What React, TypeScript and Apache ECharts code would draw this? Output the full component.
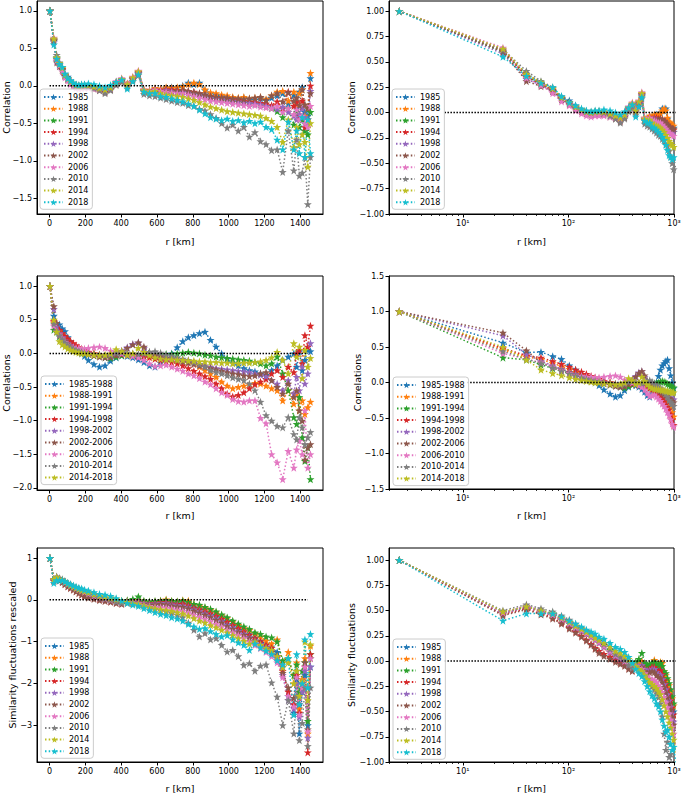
import React, { useEffect, useRef } from "react";
import * as echarts from "echarts";

// distance bins (km)
const R_KM = [2.5, 24, 40, 55, 71, 86, 102, 117, 133, 148, 164, 179, 195, 217, 248, 279, 310, 341, 372, 403, 434, 465, 496, 527, 558, 589, 620, 651, 682, 713, 744, 775, 806, 837, 868, 899, 930, 961, 992, 1023, 1054, 1085, 1116, 1147, 1178, 1209, 1240, 1271, 1302, 1333, 1364, 1380, 1395, 1411, 1426, 1442, 1457];

const YEARS = ["1985", "1988", "1991", "1994", "1998", "2002", "2006", "2010", "2014", "2018"];
const PERIODS = ["1985-1988", "1988-1991", "1991-1994", "1994-1998", "1998-2002", "2002-2006", "2006-2010", "2010-2014", "2014-2018"];
const TAB10 = ["#1f77b4", "#ff7f0e", "#2ca02c", "#d62728", "#9467bd", "#8c564b", "#e377c2", "#7f7f7f", "#bcbd22", "#17becf"];

// Correlation per year (top row)
const corr1985 = [1, 0.60, 0.38, 0.30, 0.24, 0.16, 0.12, 0.07, 0.03, 0.01, 0.00, 0.01, 0.01, 0.00, -0.02, -0.04, -0.07, -0.03, 0.04, 0.08, 0.02, 0.10, 0.18, -0.06, -0.07, -0.04, -0.05, -0.03, -0.02, -0.03, 0.00, 0.04, 0.02, 0.04, -0.06, -0.10, -0.12, -0.14, -0.15, -0.16, -0.17, -0.16, -0.18, -0.19, -0.17, -0.20, -0.16, -0.13, -0.10, -0.24, -0.12, -0.30, -0.08, -0.02, -0.35, -0.40, 0.10];
const corr1988 = [1, 0.61, 0.37, 0.29, 0.23, 0.15, 0.10, 0.06, 0.03, 0.01, 0.00, 0.00, 0.01, 0.00, -0.02, -0.04, -0.06, -0.03, 0.05, 0.09, 0.03, 0.11, 0.19, -0.05, -0.06, -0.03, -0.04, -0.02, -0.03, -0.02, -0.01, 0.02, 0.04, 0.02, -0.05, -0.09, -0.10, -0.12, -0.13, -0.15, -0.16, -0.15, -0.17, -0.16, -0.15, -0.18, -0.13, -0.08, -0.07, -0.20, -0.08, -0.25, -0.10, -0.05, -0.40, -0.30, 0.17];
const corr1991 = [1, 0.60, 0.36, 0.28, 0.22, 0.14, 0.10, 0.05, 0.02, 0.00, -0.01, 0.00, 0.00, -0.01, -0.02, -0.05, -0.07, -0.04, 0.03, 0.07, 0.01, 0.09, 0.17, -0.07, -0.08, -0.06, -0.07, -0.06, -0.06, -0.07, -0.07, -0.08, -0.09, -0.11, -0.13, -0.15, -0.17, -0.18, -0.19, -0.20, -0.21, -0.22, -0.23, -0.24, -0.25, -0.27, -0.30, -0.34, -0.42, -0.30, -0.52, -0.35, -0.55, -0.45, -0.60, -0.65, -0.35];
const corr1994 = [1, 0.62, 0.35, 0.28, 0.22, 0.14, 0.09, 0.05, 0.02, 0.00, -0.01, -0.01, 0.00, -0.01, -0.03, -0.05, -0.08, -0.04, 0.04, 0.08, 0.02, 0.10, 0.18, -0.06, -0.07, -0.05, -0.06, -0.05, -0.05, -0.06, -0.06, -0.07, -0.08, -0.10, -0.12, -0.14, -0.15, -0.16, -0.17, -0.18, -0.19, -0.20, -0.21, -0.22, -0.23, -0.24, -0.26, -0.21, -0.30, -0.08, -0.27, -0.22, -0.40, -0.20, -0.55, -0.45, 0.00];
const corr1998 = [1, 0.58, 0.33, 0.27, 0.21, 0.13, 0.09, 0.05, 0.02, 0.00, -0.01, 0.00, 0.00, -0.01, -0.03, -0.05, -0.07, -0.04, 0.03, 0.07, 0.01, 0.09, 0.17, -0.07, -0.08, -0.06, -0.07, -0.06, -0.07, -0.08, -0.08, -0.09, -0.10, -0.12, -0.14, -0.16, -0.17, -0.18, -0.19, -0.20, -0.21, -0.22, -0.23, -0.24, -0.25, -0.27, -0.29, -0.31, -0.28, -0.35, -0.40, -0.45, -0.38, -0.30, -0.42, -0.50, -0.07];
const corr2002 = [1, 0.60, 0.31, 0.26, 0.21, 0.13, 0.08, 0.04, 0.01, -0.01, -0.02, -0.02, -0.01, -0.02, -0.04, -0.06, -0.09, -0.05, 0.02, 0.06, 0.00, 0.08, 0.16, -0.08, -0.09, -0.07, -0.08, -0.07, -0.08, -0.07, -0.06, -0.07, -0.09, -0.10, -0.12, -0.14, -0.15, -0.16, -0.16, -0.17, -0.17, -0.18, -0.17, -0.16, -0.15, -0.19, -0.13, -0.10, -0.21, -0.09, -0.20, -0.16, -0.26, -0.05, -0.25, -0.30, -0.10];
const corr2006 = [1, 0.64, 0.34, 0.27, 0.19, 0.11, 0.07, 0.02, -0.01, -0.03, -0.04, -0.03, -0.03, -0.03, -0.04, -0.05, -0.06, -0.03, 0.06, 0.10, 0.03, 0.12, 0.20, -0.05, -0.07, -0.05, -0.07, -0.08, -0.09, -0.10, -0.10, -0.12, -0.14, -0.16, -0.18, -0.20, -0.21, -0.22, -0.23, -0.24, -0.25, -0.26, -0.27, -0.26, -0.28, -0.29, -0.30, -0.27, -0.35, -0.30, -0.38, -0.32, -0.45, -0.40, -0.50, -0.55, -0.27];
const corr2010 = [1, 0.62, 0.41, 0.31, 0.25, 0.15, 0.10, 0.06, 0.03, 0.01, 0.00, 0.01, 0.01, 0.00, -0.03, -0.06, -0.10, -0.06, 0.01, 0.05, -0.02, 0.06, 0.14, -0.11, -0.13, -0.14, -0.16, -0.18, -0.20, -0.22, -0.23, -0.26, -0.27, -0.31, -0.33, -0.38, -0.43, -0.50, -0.56, -0.52, -0.60, -0.55, -0.68, -0.62, -0.74, -0.78, -0.86, -0.85, -1.15, -0.60, -1.13, -0.72, -1.20, -1.16, -0.95, -1.58, -0.95];
const corr2014 = [1, 0.63, 0.38, 0.30, 0.24, 0.15, 0.10, 0.06, 0.03, 0.01, 0.00, 0.01, 0.01, 0.01, -0.01, -0.03, -0.05, -0.02, 0.05, 0.09, 0.02, 0.11, 0.19, -0.06, -0.08, -0.07, -0.10, -0.12, -0.13, -0.14, -0.15, -0.17, -0.19, -0.22, -0.25, -0.28, -0.30, -0.32, -0.34, -0.35, -0.36, -0.37, -0.38, -0.39, -0.40, -0.43, -0.47, -0.55, -0.75, -0.45, -0.82, -0.55, -0.78, -0.65, -0.75, -1.08, -0.50];
const corr2018 = [1, 0.55, 0.36, 0.29, 0.25, 0.16, 0.10, 0.07, 0.04, 0.02, 0.01, 0.02, 0.02, 0.03, 0.02, 0.00, -0.02, 0.01, 0.05, 0.08, -0.04, 0.06, 0.15, -0.08, -0.10, -0.10, -0.14, -0.15, -0.17, -0.19, -0.21, -0.24, -0.27, -0.32, -0.37, -0.42, -0.44, -0.46, -0.44, -0.47, -0.46, -0.49, -0.47, -0.50, -0.48, -0.55, -0.58, -0.72, -0.85, -0.48, -0.85, -0.60, -0.90, -0.42, -0.95, -0.45, -0.90];

// Correlations per period (middle row)
const corrP1985_1988 = [1, 0.56, 0.42, 0.43, 0.37, 0.33, 0.24, 0.18, 0.12, 0.07, 0.03, 0.00, -0.04, -0.10, -0.16, -0.20, -0.18, -0.11, -0.06, -0.03, -0.04, -0.06, -0.09, -0.13, -0.18, -0.20, -0.14, -0.07, 0.00, 0.09, 0.18, 0.24, 0.27, 0.30, 0.32, 0.20, 0.10, 0.00, -0.08, -0.14, -0.18, -0.22, -0.25, -0.27, -0.30, -0.32, -0.25, -0.18, -0.10, -0.05, 0.00, -0.20, 0.03, -0.25, -0.10, 0.05, 0.03];
const corrP1988_1991 = [1, 0.46, 0.36, 0.33, 0.27, 0.23, 0.19, 0.15, 0.12, 0.09, 0.07, 0.05, 0.03, 0.01, 0.00, -0.02, -0.03, -0.02, 0.00, 0.01, 0.00, -0.01, -0.02, -0.03, -0.04, -0.05, -0.06, -0.07, -0.08, -0.09, -0.11, -0.13, -0.15, -0.20, -0.25, -0.30, -0.35, -0.42, -0.48, -0.52, -0.50, -0.48, -0.46, -0.44, -0.45, -0.48, -0.52, -0.55, -0.70, -0.55, -0.75, -0.60, -0.85, -0.70, -0.90, -0.80, -0.72];
const corrP1991_1994 = [1, 0.35, 0.32, 0.25, 0.20, 0.16, 0.13, 0.10, 0.08, 0.06, 0.04, 0.02, 0.01, -0.01, -0.03, -0.04, -0.06, -0.07, -0.05, -0.03, -0.02, -0.03, -0.03, -0.03, -0.02, -0.02, -0.01, -0.01, -0.01, 0.00, 0.01, 0.02, 0.01, 0.00, -0.02, -0.03, -0.05, -0.06, -0.07, -0.08, -0.09, -0.10, -0.11, -0.13, -0.15, -0.18, -0.15, -0.05, -0.30, -0.55, -0.95, -1.05, -0.65, -1.25, -1.60, -1.40, -1.87];
const corrP1994_1998 = [1, 0.48, 0.38, 0.35, 0.30, 0.26, 0.22, 0.18, 0.15, 0.12, 0.09, 0.07, 0.05, 0.02, 0.00, -0.02, -0.04, -0.04, -0.02, -0.01, -0.02, -0.03, -0.04, -0.05, -0.06, -0.08, -0.10, -0.12, -0.13, -0.15, -0.18, -0.22, -0.26, -0.30, -0.34, -0.38, -0.45, -0.52, -0.60, -0.64, -0.62, -0.58, -0.52, -0.46, -0.42, -0.38, -0.30, -0.25, -0.35, -0.20, -0.28, 0.00, 0.05, -0.15, 0.27, 0.10, 0.41];
const corrP1998_2002 = [1, 0.66, 0.40, 0.30, 0.24, 0.19, 0.15, 0.12, 0.09, 0.07, 0.05, 0.03, 0.02, 0.00, -0.02, -0.04, -0.05, -0.04, 0.00, 0.04, 0.09, 0.14, 0.16, 0.08, 0.01, -0.03, -0.05, -0.07, -0.08, -0.10, -0.11, -0.12, -0.14, -0.16, -0.18, -0.20, -0.22, -0.23, -0.24, -0.25, -0.26, -0.27, -0.28, -0.30, -0.32, -0.34, -0.40, -0.45, -0.55, -0.40, -0.60, -0.35, -0.55, -0.20, -0.45, -0.30, 0.15];
const corrP2002_2006 = [1, 0.70, 0.45, 0.28, 0.22, 0.18, 0.14, 0.11, 0.08, 0.06, 0.04, 0.02, 0.01, -0.01, -0.03, -0.05, -0.06, -0.05, -0.02, 0.03, 0.08, 0.13, 0.16, 0.10, 0.02, -0.02, -0.04, -0.06, -0.08, -0.10, -0.12, -0.14, -0.16, -0.18, -0.20, -0.22, -0.24, -0.26, -0.28, -0.30, -0.31, -0.33, -0.34, -0.33, -0.30, -0.28, -0.40, -0.50, -0.60, -0.45, -0.65, -0.55, -0.85, -1.00, -1.58, -1.40, -1.35];
const corrP2006_2010 = [1, 0.41, 0.33, 0.28, 0.22, 0.17, 0.13, 0.10, 0.09, 0.08, 0.08, 0.07, 0.07, 0.08, 0.09, 0.10, 0.08, 0.04, 0.02, 0.00, -0.02, -0.04, -0.06, -0.10, -0.15, -0.19, -0.18, -0.17, -0.20, -0.23, -0.26, -0.30, -0.33, -0.37, -0.42, -0.46, -0.52, -0.58, -0.62, -0.68, -0.71, -0.72, -0.70, -0.70, -0.96, -1.04, -1.50, -1.62, -1.87, -1.45, -1.70, -1.43, -1.30, -1.50, -0.85, -1.70, -1.50];
const corrP2010_2014 = [1, 0.44, 0.33, 0.27, 0.21, 0.16, 0.12, 0.09, 0.07, 0.05, 0.03, 0.02, 0.01, 0.00, -0.01, -0.02, -0.03, -0.02, 0.01, 0.02, 0.01, 0.00, -0.01, 0.00, 0.02, 0.03, 0.01, -0.02, -0.04, -0.06, -0.08, -0.10, -0.13, -0.16, -0.20, -0.25, -0.28, -0.30, -0.33, -0.36, -0.38, -0.40, -0.45, -0.55, -0.72, -0.92, -1.00, -1.08, -1.10, -0.95, -1.20, -1.28, -0.95, -1.10, -1.35, -1.25, -1.17];
const corrP2014_2018 = [1, 0.50, 0.32, 0.18, 0.13, 0.10, 0.07, 0.05, 0.03, 0.02, 0.01, 0.00, 0.00, -0.01, -0.02, -0.03, -0.02, 0.00, 0.06, 0.03, -0.02, 0.00, 0.08, 0.02, -0.03, -0.06, -0.08, -0.09, -0.09, -0.10, -0.10, -0.11, -0.11, -0.12, -0.12, -0.13, -0.13, -0.14, -0.14, -0.15, -0.15, -0.14, -0.14, -0.13, -0.12, -0.10, -0.06, 0.02, -0.10, -0.30, 0.15, -0.05, 0.10, -0.37, 0.05, -0.20, -0.07];

// Similarity fluctuations per year (bottom row)
const sim1985 = [1, 0.48, 0.54, 0.50, 0.46, 0.42, 0.38, 0.34, 0.31, 0.28, 0.25, 0.22, 0.19, 0.15, 0.10, 0.05, 0.02, 0.00, -0.03, -0.06, -0.04, -0.05, -0.03, -0.07, -0.08, -0.06, -0.05, -0.04, -0.07, -0.08, -0.06, -0.10, -0.16, -0.20, -0.24, -0.30, -0.36, -0.43, -0.50, -0.58, -0.66, -0.74, -0.82, -0.90, -0.98, -1.05, -1.12, -1.25, -1.60, -2.30, -2.70, -1.90, -3.20, -2.20, -1.80, -3.00, -1.60];
const sim1988 = [1, 0.47, 0.53, 0.49, 0.45, 0.41, 0.37, 0.33, 0.30, 0.27, 0.24, 0.21, 0.18, 0.14, 0.09, 0.05, 0.02, 0.00, -0.02, -0.04, -0.02, -0.02, 0.00, -0.04, -0.05, -0.04, -0.02, 0.01, -0.03, -0.04, -0.01, -0.02, -0.10, -0.14, -0.19, -0.24, -0.30, -0.37, -0.44, -0.52, -0.60, -0.68, -0.72, -0.80, -0.88, -0.98, -1.05, -0.95, -1.50, -1.25, -2.00, -1.50, -2.60, -1.90, -1.40, -3.20, -1.10];
const sim1991 = [1, 0.48, 0.54, 0.50, 0.47, 0.43, 0.39, 0.35, 0.32, 0.29, 0.26, 0.23, 0.20, 0.16, 0.11, 0.06, 0.03, 0.01, -0.01, -0.03, -0.01, 0.02, 0.08, -0.02, -0.04, -0.03, -0.02, -0.01, -0.03, -0.04, -0.02, -0.05, -0.10, -0.12, -0.17, -0.22, -0.28, -0.35, -0.42, -0.50, -0.57, -0.64, -0.70, -0.78, -0.82, -0.88, -0.90, -1.00, -1.45, -1.40, -1.80, -1.55, -2.20, -1.70, -1.50, -2.90, -1.30];
const sim1994 = [1, 0.46, 0.52, 0.47, 0.43, 0.38, 0.33, 0.29, 0.25, 0.21, 0.17, 0.13, 0.10, 0.07, 0.04, 0.01, -0.02, -0.04, -0.07, -0.09, -0.06, -0.07, -0.05, -0.08, -0.09, -0.08, -0.06, -0.06, -0.09, -0.10, -0.09, -0.13, -0.19, -0.23, -0.28, -0.33, -0.39, -0.46, -0.53, -0.61, -0.68, -0.76, -0.84, -0.92, -1.00, -1.08, -1.15, -1.35, -1.70, -2.20, -2.50, -1.80, -2.70, -2.10, -1.60, -3.65, -1.30];
const sim1998 = [1, 0.47, 0.53, 0.49, 0.45, 0.41, 0.37, 0.33, 0.30, 0.27, 0.24, 0.21, 0.18, 0.14, 0.09, 0.05, 0.02, 0.00, -0.03, -0.06, -0.04, -0.05, -0.04, -0.08, -0.10, -0.09, -0.08, -0.08, -0.11, -0.13, -0.14, -0.18, -0.23, -0.28, -0.33, -0.39, -0.45, -0.52, -0.60, -0.67, -0.75, -0.82, -0.90, -0.98, -1.06, -1.14, -1.22, -1.40, -1.80, -2.40, -2.60, -2.00, -2.80, -2.20, -1.70, -3.30, -1.60];
const sim2002 = [1, 0.45, 0.51, 0.46, 0.42, 0.37, 0.32, 0.28, 0.24, 0.20, 0.16, 0.12, 0.08, 0.05, 0.02, -0.01, -0.03, -0.05, -0.08, -0.10, -0.07, -0.08, -0.06, -0.10, -0.12, -0.11, -0.10, -0.11, -0.14, -0.16, -0.17, -0.21, -0.26, -0.31, -0.36, -0.42, -0.48, -0.55, -0.63, -0.70, -0.77, -0.84, -0.92, -1.00, -1.08, -1.16, -1.24, -1.35, -1.75, -2.10, -2.35, -1.70, -2.50, -2.00, -1.50, -3.10, -1.40];
const sim2006 = [1, 0.48, 0.55, 0.50, 0.46, 0.42, 0.38, 0.34, 0.31, 0.28, 0.25, 0.22, 0.19, 0.15, 0.10, 0.06, 0.03, 0.00, -0.03, -0.06, -0.05, -0.07, -0.08, -0.12, -0.15, -0.17, -0.18, -0.19, -0.21, -0.24, -0.27, -0.31, -0.36, -0.41, -0.46, -0.52, -0.58, -0.65, -0.72, -0.78, -0.85, -0.92, -1.00, -1.08, -1.16, -1.25, -1.35, -1.50, -1.85, -2.30, -2.55, -1.85, -2.75, -2.10, -1.60, -3.15, -1.40];
const sim2010 = [1, 0.50, 0.56, 0.52, 0.49, 0.45, 0.41, 0.37, 0.33, 0.30, 0.27, 0.24, 0.21, 0.17, 0.12, 0.07, 0.04, 0.01, -0.04, -0.07, -0.06, -0.08, -0.10, -0.14, -0.18, -0.22, -0.25, -0.28, -0.32, -0.36, -0.42, -0.55, -0.72, -0.88, -0.80, -0.95, -0.92, -1.08, -1.24, -1.20, -1.35, -1.56, -1.52, -1.70, -1.58, -1.55, -1.98, -2.32, -3.00, -2.40, -3.20, -2.30, -3.36, -2.95, -2.10, -3.50, -2.10];
const sim2014 = [1, 0.49, 0.54, 0.50, 0.47, 0.43, 0.39, 0.35, 0.32, 0.29, 0.26, 0.23, 0.21, 0.18, 0.14, 0.10, 0.08, 0.05, 0.02, -0.02, -0.05, -0.08, -0.10, -0.14, -0.18, -0.21, -0.23, -0.25, -0.27, -0.30, -0.33, -0.38, -0.44, -0.50, -0.55, -0.61, -0.66, -0.72, -0.78, -0.85, -0.92, -0.98, -1.05, -1.00, -1.08, -1.15, -1.20, -1.35, -1.62, -1.50, -2.00, -1.70, -2.30, -1.95, -1.00, -2.40, -1.07];
const sim2018 = [1, 0.40, 0.47, 0.47, 0.47, 0.44, 0.40, 0.37, 0.34, 0.31, 0.29, 0.27, 0.24, 0.22, 0.18, 0.14, 0.12, 0.09, 0.04, -0.02, -0.08, -0.12, -0.15, -0.20, -0.25, -0.30, -0.34, -0.37, -0.42, -0.45, -0.50, -0.58, -0.64, -0.70, -0.68, -0.75, -0.82, -0.88, -0.85, -0.95, -1.02, -1.08, -1.20, -1.05, -1.14, -1.22, -1.30, -1.45, -1.55, -1.40, -2.75, -1.30, -2.50, -2.00, -0.95, -2.10, -0.82];

// ticks
const X_TICKS_LIN = [0, 200, 400, 600, 800, 1000, 1200, 1400];
const X_TICKS_LOG = [10, 100, 1000];
const X_MINOR_LOG = [2, 3, 4, 5, 6, 7, 8, 9, 20, 30, 40, 50, 60, 70, 80, 90, 200, 300, 400, 500, 600, 700, 800, 900];
const Y_TICKS_CORR = [-1.5, -1, -0.5, 0, 0.5, 1];
const Y_TICKS_QUARTER = [-1, -0.75, -0.5, -0.25, 0, 0.25, 0.5, 0.75, 1];
const Y_TICKS_PERIOD = [-2, -1.5, -1, -0.5, 0, 0.5, 1];
const Y_TICKS_PERIOD_LOG = [-1.5, -1, -0.5, 0, 0.5, 1, 1.5];
const Y_TICKS_SIM = [-3, -2, -1, 0, 1];

// dotted zero reference lines (x extents)
const ZERO_LIN = [0, 1442];
const ZERO_LOG_A = [6.7, 1442];
const ZERO_LOG_B = [11, 1442];

const YEAR_CORR = [corr1985, corr1988, corr1991, corr1994, corr1998, corr2002, corr2006, corr2010, corr2014, corr2018];
const PERIOD_CORR = [corrP1985_1988, corrP1988_1991, corrP1991_1994, corrP1994_1998, corrP1998_2002, corrP2002_2006, corrP2006_2010, corrP2010_2014, corrP2014_2018];
const YEAR_SIM = [sim1985, sim1988, sim1991, sim1994, sim1998, sim2002, sim2006, sim2010, sim2014, sim2018];

const FONT = "DejaVu Sans";
const STAR = "path://M0,-10L2.35,-3.24L9.51,-3.09L3.8,1.24L5.88,8.09L0,4L-5.88,8.09L-3.8,1.24L-9.51,-3.09L-2.35,-3.24Z";
const SUP: Record<number, string> = { 10: "10\u00b9", 100: "10\u00b2", 1000: "10\u00b3" };
const fmtMinus = (s: string) => s.replace("-", "\u2212");

type Panel = {
  left: number; top: number; width: number; height: number;
  log: boolean; yMin: number; yMax: number; yTicks: number[]; yDec: number;
  names: string[]; values: number[][]; zero: number[];
  yName: string; yNameX: number; xNameY: number; legendLeft: number; legendTop: number;
};

const PANELS: Panel[] = [
  { left: 37, top: 1, width: 286, height: 213, log: false, yMin: -1.71, yMax: 1.13, yTicks: Y_TICKS_CORR, yDec: 1, names: YEARS, values: YEAR_CORR, zero: ZERO_LIN, yName: "Correlation", yNameX: 6, xNameY: 241, legendLeft: 40, legendTop: 89 },
  { left: 389, top: 1, width: 285, height: 213, log: true, yMin: -1, yMax: 1.1, yTicks: Y_TICKS_QUARTER, yDec: 2, names: YEARS, values: YEAR_CORR, zero: ZERO_LOG_A, yName: "Correlation", yNameX: 351, xNameY: 241, legendLeft: 392, legendTop: 89 },
  { left: 37, top: 276, width: 286, height: 214, log: false, yMin: -2.03, yMax: 1.15, yTicks: Y_TICKS_PERIOD, yDec: 1, names: PERIODS, values: PERIOD_CORR, zero: ZERO_LIN, yName: "Correlations", yNameX: 6, xNameY: 515, legendLeft: 41, legendTop: 376 },
  { left: 389, top: 276, width: 285, height: 213, log: true, yMin: -1.5, yMax: 1.5, yTicks: Y_TICKS_PERIOD_LOG, yDec: 1, names: PERIODS, values: PERIOD_CORR, zero: ZERO_LOG_B, yName: "Correlations", yNameX: 357, xNameY: 515, legendLeft: 393, legendTop: 377 },
  { left: 37, top: 548, width: 286, height: 214, log: false, yMin: -3.88, yMax: 1.24, yTicks: Y_TICKS_SIM, yDec: 0, names: YEARS, values: YEAR_SIM, zero: ZERO_LIN, yName: "Similarity fluctuations rescaled", yNameX: 12, xNameY: 788, legendLeft: 41, legendTop: 638 },
  { left: 389, top: 548, width: 285, height: 214, log: true, yMin: -1, yMax: 1.12, yTicks: Y_TICKS_QUARTER, yDec: 2, names: YEARS, values: YEAR_SIM, zero: ZERO_LOG_A, yName: "Similarity fluctuations", yNameX: 351, xNameY: 788, legendLeft: 393, legendTop: 639 },
];

function buildOption() {
  const grid: any[] = [];
  const xAxis: any[] = [];
  const yAxis: any[] = [];
  const series: any[] = [];
  const legend: any[] = [];
  const graphic: any[] = [];
  const black = { color: "#000", width: 1 };

  PANELS.forEach((p, i) => {
    grid.push({ left: p.left, top: p.top, width: p.width, height: p.height, show: true, borderColor: "#000", borderWidth: 1, backgroundColor: "transparent" });
    const xMin = p.log ? 2 : -70;
    const xMax = p.log ? 1000 : 1527;
    const xTicks = p.log ? X_TICKS_LOG : X_TICKS_LIN;
    const xi = xAxis.length;
    xAxis.push({
      gridIndex: i, type: p.log ? "log" : "value", logBase: 10, min: xMin, max: xMax, position: "bottom",
      axisLine: { show: true, onZero: false, lineStyle: black },
      axisTick: { show: true, length: 3.5, lineStyle: black, customValues: xTicks },
      axisLabel: { show: true, customValues: xTicks, margin: 5, fontSize: 8, fontFamily: FONT, color: "#000",
        formatter: (v: number) => (p.log ? SUP[Math.round(v)] || String(v) : String(v)) },
      splitLine: { show: false }, minorTick: { show: false },
    });
    if (p.log) {
      xAxis.push({
        gridIndex: i, type: "log", logBase: 10, min: xMin, max: xMax, position: "bottom",
        axisLine: { show: false, onZero: false },
        axisTick: { show: true, length: 2, lineStyle: { color: "#000", width: 0.8 }, customValues: X_MINOR_LOG },
        axisLabel: { show: false }, splitLine: { show: false },
      });
    }
    yAxis.push({
      gridIndex: i, type: "value", min: p.yMin, max: p.yMax, position: "left",
      axisLine: { show: true, onZero: false, lineStyle: black },
      axisTick: { show: true, length: 3.5, lineStyle: black, customValues: p.yTicks },
      axisLabel: { show: true, customValues: p.yTicks, margin: 5, fontSize: 8, fontFamily: FONT, color: "#000",
        formatter: (v: number) => fmtMinus(v.toFixed(p.yDec)) },
      splitLine: { show: false },
    });

    p.names.forEach((name, j) => {
      const vals = p.values[j];
      series.push({
        type: "line", name, xAxisIndex: xi, yAxisIndex: i,
        data: R_KM.map((r, k) => [r, vals[k]]),
        symbol: STAR, symbolSize: 8, showSymbol: true, clip: true,
        lineStyle: { color: TAB10[j], width: 1.5, type: [1.5, 2.2] },
        itemStyle: { color: TAB10[j] },
        emphasis: { disabled: true }, z: 2,
      });
    });
    series.push({
      type: "line", name: "zero" + i, xAxisIndex: xi, yAxisIndex: i,
      data: p.zero.map((x) => [x, 0]), symbol: "none", clip: true, silent: true,
      lineStyle: { color: "#000", width: 1.5, type: [1.5, 1.5] }, z: 3,
    });

    legend.push({
      orient: "vertical", left: p.legendLeft, top: p.legendTop, data: p.names, selectedMode: false,
      itemWidth: 19, itemHeight: 8, itemGap: 3.7, padding: [4, 4, 3, 3],
      backgroundColor: "rgba(255,255,255,0.8)", borderColor: "#cccccc", borderWidth: 1, borderRadius: 3,
      textStyle: { fontFamily: FONT, fontSize: 8, color: "#000", lineHeight: 8 },
    });

    graphic.push({
      type: "text", x: p.yNameX, y: p.top + p.height / 2, rotation: Math.PI / 2,
      style: { text: p.yName, fontSize: 9.5, fontFamily: FONT, fill: "#000", align: "center", verticalAlign: "middle" },
    });
    graphic.push({
      type: "text", x: p.left + p.width / 2, y: p.xNameY,
      style: { text: "r [km]", fontSize: 9.5, fontFamily: FONT, fill: "#000", align: "center", verticalAlign: "middle" },
    });
  });

  return {
    animation: false,
    backgroundColor: "#fff",
    textStyle: { fontFamily: FONT },
    grid, xAxis, yAxis, series, legend, graphic,
  };
}

export default function App() {
  const ref = useRef<HTMLDivElement>(null);
  useEffect(() => {
    if (!ref.current) return;
    const chart = echarts.init(ref.current, undefined, { renderer: "svg" });
    chart.setOption(buildOption() as any);
    return () => chart.dispose();
  }, []);
  return <div ref={ref} style={{ position: "fixed", left: 0, top: 0, width: 685, height: 794 }} />;
}
